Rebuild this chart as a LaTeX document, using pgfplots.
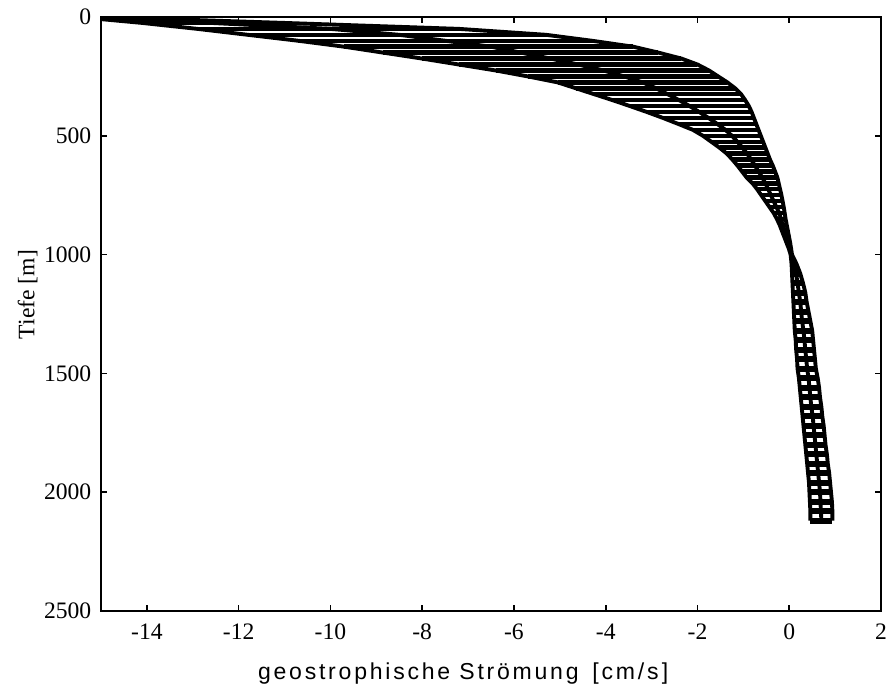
\documentclass[border=0pt]{standalone}
\usepackage{pgfplots}
\pgfplotsset{compat=1.18}
\usepackage{pgfplotstable}
\usepackage{fontspec}
\setmainfont{Liberation Serif}
\newfontfamily\labelsans[LetterSpace=12]{Liberation Sans}

% upper part of the band: depth, left edge, middle, right edge
\pgfplotstableread{
z    L      M      R
0    -15.5  -15.2  -15.0
25   -14.1  -12.6  -11.0
50   -12.9  -10.0  -7.2
75   -11.8  -8.5   -5.3
100  -10.7  -7.5   -4.3
125  -9.7   -6.5   -3.4
150  -8.85  -5.85  -2.85
175  -8.0   -5.2   -2.35
200  -7.2   -4.6   -2.0
225  -6.4   -4.05  -1.75
250  -5.7   -3.6   -1.55
275  -5.05  -3.2   -1.35
300  -4.65  -2.9   -1.18
325  -4.25  -2.65  -1.05
350  -3.85  -2.4   -0.96
375  -3.47  -2.17  -0.88
400  -3.1   -1.96  -0.82
425  -2.75  -1.76  -0.77
450  -2.42  -1.57  -0.72
475  -2.1   -1.39  -0.67
500  -1.88  -1.25  -0.62
525  -1.7   -1.13  -0.57
550  -1.52  -1.02  -0.52
575  -1.36  -0.92  -0.47
600  -1.24  -0.83  -0.42
625  -1.13  -0.75  -0.36
650  -1.03  -0.67  -0.31
675  -0.93  -0.59  -0.26
700  -0.8   -0.52  -0.23
725  -0.70  -0.46  -0.20
750  -0.61  -0.40  -0.17
775  -0.52  -0.34  -0.145
800  -0.43  -0.28  -0.12
825  -0.34  -0.22  -0.10
850  -0.27  -0.18  -0.08
875  -0.21  -0.14  -0.055
900  -0.16  -0.10  -0.03
925  -0.11  -0.065 -0.005
950  -0.06  -0.03  0.02
975  -0.01  0.01   0.04
1000 0.03   0.045  0.06
}\upperband

% lower part of the band
\pgfplotstableread{
z    L     M     R
1000 0.03  0.045 0.06
1040 0.05  0.10  0.16
1080 0.06  0.15  0.24
1120 0.07  0.18  0.30
1160 0.08  0.21  0.35
1200 0.09  0.24  0.38
1240 0.10  0.26  0.42
1280 0.11  0.28  0.46
1320 0.12  0.31  0.50
1360 0.14  0.33  0.52
1400 0.15  0.35  0.54
1440 0.17  0.37  0.56
1480 0.18  0.39  0.58
1520 0.21  0.42  0.62
1560 0.23  0.44  0.65
1600 0.25  0.46  0.67
1640 0.27  0.48  0.70
1680 0.29  0.51  0.72
1720 0.31  0.53  0.75
1760 0.33  0.55  0.77
1800 0.35  0.57  0.79
1840 0.37  0.59  0.82
1880 0.39  0.61  0.84
1920 0.41  0.63  0.87
1960 0.43  0.65  0.89
2000 0.44  0.67  0.91
2040 0.45  0.68  0.93
2080 0.46  0.69  0.94
2120 0.46  0.70  0.94
}\lowerband

\begin{document}
\begin{tikzpicture}
\begin{axis}[
  width=281pt, height=214pt, scale only axis,
  xmin=-15, xmax=2, ymin=0, ymax=2500,
  y dir=reverse,
  xtick={-14,-12,...,2},
  xticklabels={-14,-12,-10,-8,-6,-4,-2,0,2},
  ytick={0,500,...,2500},
  yticklabels={0,500,1000,1500,2000,2500},
  tick align=inside, major tick length=2.2pt,
  tick style={black, line width=0.6pt},
  axis line style={line width=0.8pt},
  ticklabel style={font=\fontsize{8.5}{10}\selectfont},
  xticklabel style={yshift=-1pt},
  ylabel={Tiefe [m]},
  ylabel style={font=\fontsize{8.5}{10}\selectfont, yshift=-4.5pt, xshift=7pt},
  xlabel={\labelsans geostrophische Strömung\hspace{0.6em}[cm/s\hspace{0.15em}]},
  xlabel style={font=\fontsize{8.3}{10}\selectfont, yshift=-1.5pt, xshift=-10pt},
]
% horizontal bars between the edges
\addplot[draw=none, mark=none,
  error bars/.cd, x dir=plus, x explicit,
  error bar style={line width=1.6pt, black}, error mark=none]
  table[x=L, y=z, x error expr=\thisrow{R}-\thisrow{L}] {\upperband};
\addplot[draw=none, mark=none,
  error bars/.cd, x dir=plus, x explicit,
  error bar style={line width=2.1pt, black}, error mark=none]
  table[x=L, y=z, x error expr=\thisrow{R}-\thisrow{L}] {\lowerband};
% edges and middle profile
\addplot[black, line width=1.4pt, mark=none] table[x=L, y=z] {\upperband};
\addplot[black, line width=1.4pt, mark=none] table[x=M, y=z] {\upperband};
\addplot[black, line width=1.4pt, mark=none] table[x=R, y=z] {\upperband};
\addplot[black, line width=1.4pt, mark=none] table[x=L, y=z] {\lowerband};
\addplot[black, line width=1.4pt, mark=none] table[x=M, y=z] {\lowerband};
\addplot[black, line width=1.4pt, mark=none] table[x=R, y=z] {\lowerband};
\coordinate (bbA) at (rel axis cs:-0.1295,-0.1313);
\coordinate (bbB) at (rel axis cs:1.0064,1.0286);
\end{axis}
\pgfresetboundingbox
\path (bbA) rectangle (bbB);
\end{tikzpicture}
\end{document}
